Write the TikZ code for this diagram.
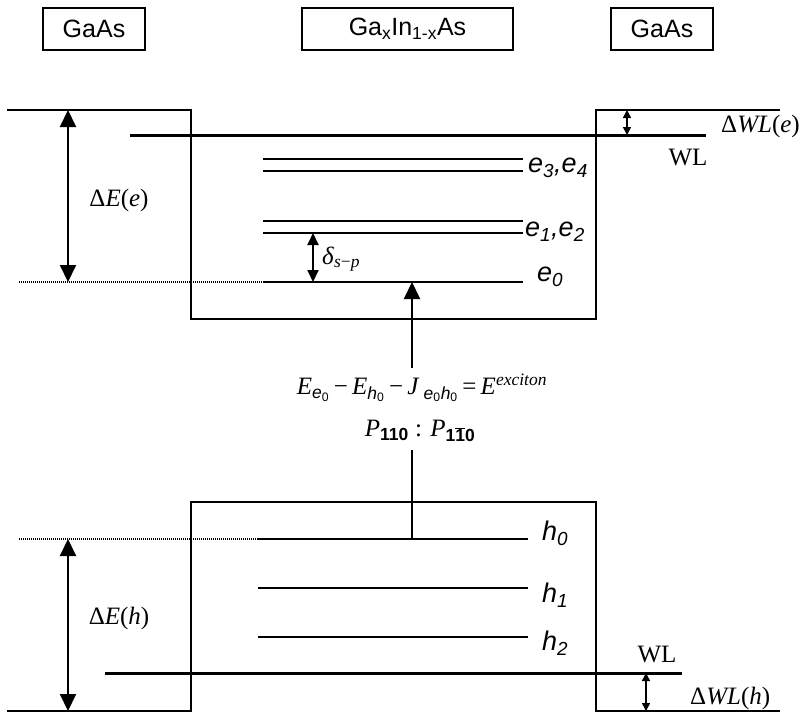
\documentclass[tikz,border=0pt]{standalone}
\usepackage{fontspec}
\setmainfont{Liberation Serif}
\newfontfamily\arial{Liberation Sans}
\usetikzlibrary{positioning,arrows.meta}

\begin{document}
\begin{tikzpicture}[
	x=1pt,y=-1pt,
	>={Triangle[length=17pt,width=16pt]},
	layer/.style={
		draw,
		line width=1.6pt,
		minimum width=102pt,
		minimum height=42pt,
		font=\arial\fontsize{25}{28}\selectfont
	},
	edge/.style={line width=1.6pt},
	wl/.style={line width=3pt},
	level/.style={line width=1.6pt},
	ref/.style={line width=1.1pt,dash pattern=on 1pt off 1pt},
	gap/.style={line width=2pt,<->},
	lab/.style={anchor=west,inner sep=0pt,font=\arial\itshape\fontsize{27}{30}\selectfont},
	sym/.style={inner sep=0pt,font=\fontsize{25}{28}\selectfont}
	]
	
	\useasboundingbox (0,0) rectangle (806,715);
	
	\node[layer] (gaasL) at (94,29) {GaAs};
	\node[layer,minimum width=211pt] (alloy) at (407.5,29) {Ga\textsubscript{x}In\textsubscript{1-x}As};
	\node[layer] (gaasR) at (662,29) {GaAs};
	
	\draw[edge] (7,110) -- (191,110) -- (191,319) -- (596,319) -- (596,110) -- (780,110);
	\draw[edge] (7,711) -- (191,711) -- (191,502) -- (596,502) -- (596,711) -- (780,711);
	
	\coordinate (cbTop) at (68,110);
	\coordinate (e0Ref) at (68,282);
	\coordinate (e0L) at (263,282);
	\coordinate (e0R) at (523,282);
	\coordinate (e2Mark) at (313,233);
	\coordinate (e0Mark) at (313,282);
	\coordinate (exc) at (412,282);
	\coordinate (wlEMark) at (627,135);
	\coordinate (cbStep) at (627,110);
	
	\draw[wl] (130,135) -- (706,135);
	\draw[level] (263,159) -- (523,159);
	\draw[level] (263,171) -- (523,171);
	\draw[level] (263,221) -- (523,221);
	\draw[level] (263,233) -- (523,233);
	\draw[level] (e0L) -- (e0R);
	\draw[ref] (19,282) -- (e0L);
	
	\node[lab] (e34) at (528,168) {e\textsubscript{3},e\textsubscript{4}};
	\node[lab] (e12) at (525,232) {e\textsubscript{1},e\textsubscript{2}};
	\node[lab] (e0) at (537,277) {e\textsubscript{0}};
	\node[sym] (wlE) at (688,158) {WL};
	\node[sym,anchor=west] (dwlE) at (721,126) {Δ\textit{WL}(\textit{e})};
	\node[sym] (dEe) at (119,200) {Δ\textit{E}(\textit{e})};
	\node[sym,anchor=west] (dsp) at (322,259) {\textit{δ}\textsubscript{\textit{s}−\textit{p}}};
	
	\draw[gap] (cbTop) -- (e0Ref);
	\draw[line width=2pt,<->,>={Triangle[length=12pt,width=11pt]}] (e2Mark) -- (e0Mark);
	\draw[line width=1.6pt,<->,>={Triangle[length=8pt,width=8pt]}] (cbStep) -- (wlEMark);
	
	\node[sym] (eq) at (422,388) {\textit{E}\textsubscript{{\arial\itshape e}\textsubscript{\arial 0}}\,−\,\textit{E}\textsubscript{{\arial\itshape h}\textsubscript{\arial 0}}\,−\,\textit{J}\,\textsubscript{{\arial\itshape e}\textsubscript{\arial 0}{\arial\itshape h}\textsubscript{\arial 0}}\,=\,\textit{E}\textsuperscript{\textit{exciton}}};
	\node[sym] (pol) at (420,431) {\textit{P}\textsubscript{\arial\bfseries 110} : \textit{P}\textsubscript{\arial\bfseries 1$\overline{\mbox{1}}$0}};
	
	\coordinate (h0L) at (258,539);
	\coordinate (h0R) at (528,539);
	\coordinate (h0Mid) at (412,539);
	\coordinate (h0Ref) at (68,539);
	\coordinate (vbBot) at (68,711);
	\coordinate (wlHMark) at (646,673);
	\coordinate (vbStep) at (646,711);
	
	\draw[line width=2pt,->] (eq.north -| exc) ++(0,-6) -- (exc);
	\draw[line width=2pt] (pol.south -| h0Mid) ++(0,8) -- (h0Mid);
	
	\draw[level] (h0L) -- (h0R);
	\draw[level] (258,588) -- (528,588);
	\draw[level] (258,637) -- (528,637);
	\draw[ref] (19,539) -- (h0L);
	\draw[wl] (105,673) -- (682,673);
	
	\node[lab] (h0) at (542,533) {h\textsubscript{0}};
	\node[lab] (h1) at (542,595) {h\textsubscript{1}};
	\node[lab] (h2) at (542,643) {h\textsubscript{2}};
	\node[sym] (wlH) at (657,654) {WL};
	\node[sym,anchor=west] (dwlH) at (690,698) {Δ\textit{WL}(\textit{h})};
	\node[sym] (dEh) at (119,618) {Δ\textit{E}(\textit{h})};
	
	\draw[gap] (h0Ref) -- (vbBot);
	\draw[line width=1.6pt,<->,>={Triangle[length=8pt,width=8pt]}] (wlHMark) -- (vbStep);
	
\end{tikzpicture}
\end{document}
